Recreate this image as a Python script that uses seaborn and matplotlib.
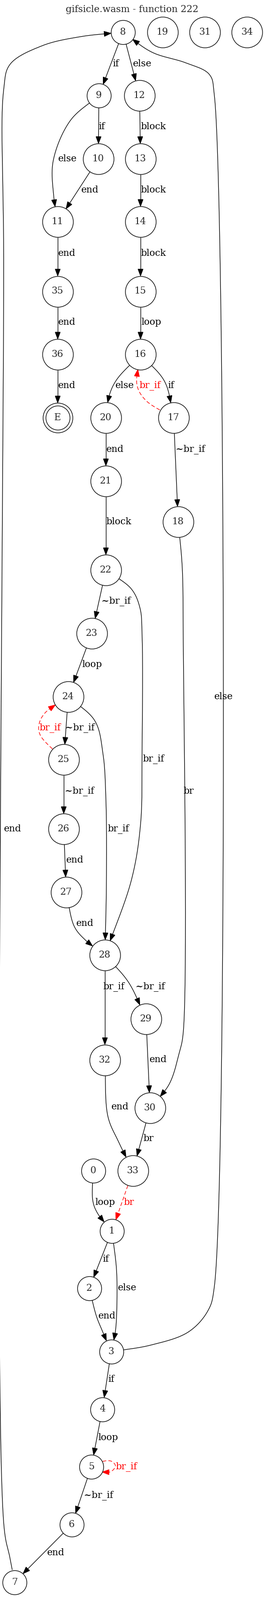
import numpy as np
import pandas as pd
import matplotlib
matplotlib.use("Agg")
import matplotlib.pyplot as plt
import seaborn as sns

W, H = 526, 3183
DPI = 100
TITLE = "gifsicle.wasm - function 222"

# graph nodes
node_ids = ["8", "19", "31", "34", "9", "12", "10", "13", "11", "14", "35", "15", "36", "16",
            "E", "20", "17", "21", "18", "22", "23", "24", "25", "26", "27", "28", "29", "32",
            "30", "0", "33", "1", "2", "3", "4", "5", "6", "7"]

# graph edges
edge_src = ["8", "8", "9", "9", "10", "12", "13", "14", "11", "35", "36", "15", "16", "16", "17",
            "17", "20", "21", "22", "22", "23", "24", "25", "24", "25", "26", "27", "28", "28",
            "29", "18", "32", "30", "33", "0", "1", "1", "2", "3", "3", "4", "5", "5", "6", "7"]
edge_dst = ["9", "12", "10", "11", "11", "13", "14", "15", "35", "36", "E", "16", "20", "17", "16",
            "18", "21", "22", "23", "28", "24", "25", "24", "28", "26", "27", "28", "32", "29",
            "30", "30", "33", "33", "1", "1", "2", "3", "3", "8", "4", "5", "5", "6", "7", "8"]
edge_label = ["if", "else", "if", "else", "end", "block", "block", "block", "end", "end", "end",
              "loop", "else", "if", "br_if", "~br_if", "end", "block", "~br_if", "br_if", "loop",
              "~br_if", "br_if", "br_if", "~br_if", "end", "end", "br_if", "~br_if", "end", "br",
              "end", "br", "br", "loop", "if", "else", "end", "else", "if", "loop", "br_if",
              "~br_if", "end", "end"]
back_edges = [14, 22, 33, 41]  # red dashed ones

# layout (pixel coords, as laid out by dot)
node_x = [245, 324, 408, 492, 197, 278, 196, 280, 115, 280, 115, 280, 115, 280,
          115, 211, 346, 211, 355, 211, 183, 136, 127, 127, 132, 209, 291, 209,
          299, 185.5, 265, 223, 178, 221.5, 204, 182, 143, 29]
node_y = [64, 64, 64, 64, 190, 190, 316, 316, 441, 441, 579.5, 579.5, 705, 705,
          831, 831, 831, 957, 1038, 1134, 1260, 1386, 1511, 1649, 1775, 1900, 2027, 2108.5,
          2204, 2329, 2329, 2449, 2563, 2689, 2803.5, 2918, 3033, 3147.6]
label_x = [231, 283, 203, 134, 178, 306, 306, 306, 133, 133, 133, 301, 248, 341, 299, 379, 229,
           237, 231, 306, 183, 159, 100, 236, 158, 149, 169, 227, 299, 314, 376, 238, 296, 257,
           209, 211, 253, 213, 445, 222, 215.5, 252, 196, 111, 25]
label_y = [127, 127, 252, 316, 378, 252, 378, 504, 504, 641, 767, 641, 767, 767, 767, 894, 894,
           1038, 1196, 1510, 1322, 1448, 1448, 1649, 1574, 1711, 1837, 1963, 1963, 2108, 1574,
           2202, 2265, 2392, 2392, 2505, 2562, 2618, 1386, 2744, 2860, 2918, 2975, 3089, 1649]
waypoints = {
    3: [(140, 240), (106, 320), (107, 390)],
    12: [(232, 756), (217, 789)],
    13: [(328, 759)],
    14: [(290, 796), (273, 766)],
    19: [(262, 1172), (279, 1210), (283, 1260), (283, 1498), (280, 1640), (262, 1750)],
    22: [(80, 1462), (78, 1440), (90, 1418)],
    23: [(189, 1434), (205, 1498), (211, 1590), (212, 1758)],
    26: [(148, 1843), (170, 1870)],
    28: [(256, 1954)],
    30: [(363, 1127), (365, 1262), (365, 2055), (357, 2095), (337, 2157)],
    31: [(215, 2221), (236, 2271)],
    34: [(185, 2389), (194, 2413)],
    36: [(232, 2524), (233, 2591), (230, 2648)],
    37: [(192, 2618), (204, 2648)],
    38: [(300, 2676), (375, 2650), (414, 2608), (427, 2560), (427, 189), (417, 148),
         (370, 125), (303, 104)],
    41: [(206, 2907), (222, 2907), (230, 2916), (222, 2927), (206, 2929)],
    44: [(20, 3100), (8, 3037), (7.4, 525), (7.4, 178), (20, 128), (84, 91), (160, 73)],
}

FS = 18.67 * 72 / DPI
FONT = "DejaVu Serif"
ARROW_LEN, ARROW_HW = 13.5, 5.0

pos = {n: (x, y) for n, x, y in zip(node_ids, node_x, node_y)}


def radius(n):
    if n == "E":
        return 29.6
    return 24 if len(n) == 1 else 30.6


def cr_curve(points):
    # centripetal catmull-rom through the route points
    pts = np.array(points, float)
    P = np.vstack([2 * pts[0] - pts[1], pts, 2 * pts[-1] - pts[-2]])
    out = []
    for i in range(1, len(P) - 2):
        p0, p1, p2, p3 = P[i - 1], P[i], P[i + 1], P[i + 2]
        n = max(6, int(np.linalg.norm(p2 - p1)))
        def tj(ti, a, b):
            return ti + max(np.linalg.norm(b - a), 1e-6) ** 0.5
        t0 = 0.0
        t1 = tj(t0, p0, p1)
        t2 = tj(t1, p1, p2)
        t3 = tj(t2, p2, p3)
        t = np.linspace(t1, t2, n, endpoint=False)[:, None]
        A1 = (t1 - t) / (t1 - t0) * p0 + (t - t0) / (t1 - t0) * p1
        A2 = (t2 - t) / (t2 - t1) * p1 + (t - t1) / (t2 - t1) * p2
        A3 = (t3 - t) / (t3 - t2) * p2 + (t - t2) / (t3 - t2) * p3
        B1 = (t2 - t) / (t2 - t0) * A1 + (t - t0) / (t2 - t0) * A2
        B2 = (t3 - t) / (t3 - t1) * A2 + (t - t1) / (t3 - t1) * A3
        out.append((t2 - t) / (t2 - t1) * B1 + (t - t1) / (t2 - t1) * B2)
    out.append(pts[-1][None])
    return np.vstack(out)


sns.set_theme(style="white")
plt.rcParams["font.family"] = [FONT, "DejaVu Sans"]

fig = plt.figure(figsize=(W / DPI, H / DPI), dpi=DPI)
ax = fig.add_axes([0, 0, 1, 1])
ax.set_xlim(0, W)
ax.set_ylim(H, 0)
ax.axis("off")

ax.text(W / 2, 19.5, TITLE, fontsize=FS, family=FONT, ha="center", va="center")

for k, (s, d, lab) in enumerate(zip(edge_src, edge_dst, edge_label)):
    color = "red" if k in back_edges else "black"
    ls = (0, (6, 3.5)) if k in back_edges else "-"
    route = [pos[s]] + waypoints.get(k, []) + [pos[d]]
    path = cr_curve(route)
    c0, c1 = np.array(pos[s]), np.array(pos[d])
    d0 = np.hypot(*(path - c0).T)
    d1 = np.hypot(*(path - c1).T)
    i = int(np.argmax(d0 > radius(s)))
    j = int(np.where(d1 > radius(d))[0][-1])
    seg = path[i:j + 1]
    # arrow tip exactly on the target circle
    a, b = path[j], path[min(j + 1, len(path) - 1)]
    da, db = np.linalg.norm(a - c1), np.linalg.norm(b - c1)
    f = (da - radius(d)) / (da - db) if da != db else 0
    tip = a + (b - a) * f
    seg = np.vstack([seg, tip])
    # walk back for the arrow base
    acc, m = 0.0, len(seg) - 1
    while m > 0 and acc < ARROW_LEN:
        acc += np.linalg.norm(seg[m] - seg[m - 1])
        m -= 1
    direction = tip - seg[m]
    direction /= np.linalg.norm(direction)
    base = tip - direction * ARROW_LEN
    perp = np.array([-direction[1], direction[0]])
    line = np.vstack([seg[:m + 1], base])
    ax.plot(line[:, 0], line[:, 1], color=color, lw=0.9, ls=ls, zorder=1,
            solid_capstyle="butt")
    tri = np.array([tip, base + perp * ARROW_HW, base - perp * ARROW_HW])
    ax.fill(tri[:, 0], tri[:, 1], color=color, lw=0.8, zorder=2)
    ax.text(label_x[k], label_y[k], lab, fontsize=FS, family=FONT, color=color,
            ha="center", va="center", zorder=4)

nodes = pd.DataFrame({"id": node_ids, "x": node_x, "y": node_y})
nodes["r"] = nodes["id"].map(radius)
for r, grp in nodes.groupby("r"):
    size = (2 * r * 72 / DPI) ** 2
    sns.scatterplot(data=grp, x="x", y="y", s=size, color="white", edgecolor="black",
                    linewidth=0.9, ax=ax, zorder=3, legend=False)
inner = nodes[nodes["id"] == "E"]
sns.scatterplot(data=inner, x="x", y="y", s=(2 * 24 * 72 / DPI) ** 2, color="white",
                edgecolor="black", linewidth=0.9, ax=ax, zorder=3, legend=False)
for n, x, y in zip(node_ids, node_x, node_y):
    ax.text(x, y, n, fontsize=FS, family=FONT, ha="center", va="center", zorder=5)

ax.set_xlim(0, W)
ax.set_ylim(H, 0)
ax.set_xlabel("")
ax.set_ylabel("")
fig.savefig("out.png", dpi=DPI, facecolor="white")
